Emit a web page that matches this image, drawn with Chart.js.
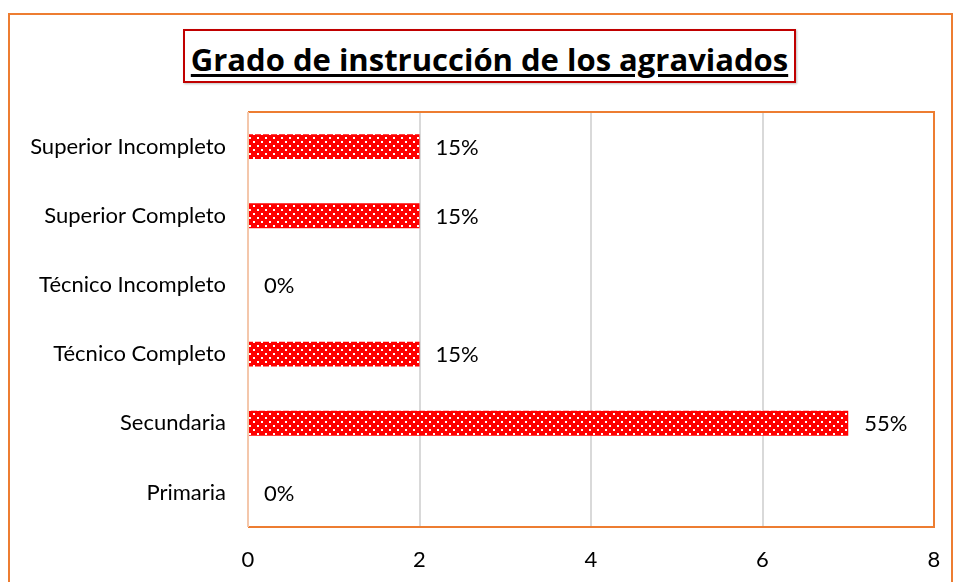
<!DOCTYPE html>
<html>
<head>
<meta charset="utf-8">
<script src="https://cdn.jsdelivr.net/npm/chart.js@4"></script>
<style>
  html, body { margin: 0; padding: 0; background: #fff; }
  #wrap { position: relative; width: 955px; height: 582px; overflow: hidden; }
  #frame { position: absolute; left: 8px; top: 13px; width: 941px; height: 620px; border: 2px solid #ED7D31; }
  #title {
    position: absolute; left: 183px; top: 29px; width: 609px; height: 47px; padding-top: 3px;
    border: 2px solid #C00000; box-shadow: 1px 1px 2px rgba(0,0,0,0.25);
    font: bold 31px "Open Sans", sans-serif; color: #000; text-align: center; line-height: 50px;
  }
  #title span { text-decoration: underline; text-decoration-thickness: 3px; text-underline-offset: 3px; }
  canvas { position: absolute; left: 0; top: 0; }
</style>
</head>
<body>
<div id="wrap">
  <div id="frame"></div>
  <div id="title"><span>Grado de instrucción de los agraviados</span></div>
  <canvas id="chart" width="955" height="582"></canvas>
</div>
<script>
// data
const categories = ['Superior Incompleto', 'Superior Completo', 'Técnico Incompleto', 'Técnico Completo', 'Secundaria', 'Primaria'];
const counts = [2, 2, 0, 2, 7, 0];
const percents = ['15%', '15%', '0%', '15%', '55%', '0%'];
const xTicks = [0, 2, 4, 6, 8];

const byId = (id) => document.getElementById(id);

// red fill with white dots
function dotPattern() {
  const c = document.createElement('canvas');
  c.width = 8; c.height = 8;
  const g = c.getContext('2d');
  g.fillStyle = '#FF0000';
  g.fillRect(0, 0, 8, 8);
  g.fillStyle = '#FFFFFF';
  g.fillRect(1, 1, 2, 2);
  g.fillRect(5, 5, 2, 2);
  return g.createPattern(c, 'repeat');
}

const plotFrame = {
  id: 'plotFrame',
  afterDatasetsDraw(chart) {
    const { ctx, chartArea: a } = chart;
    ctx.save();
    ctx.lineWidth = 2;
    ctx.strokeStyle = '#ED7D31';
    ctx.beginPath();
    ctx.moveTo(a.left, a.top); ctx.lineTo(a.right, a.top);
    ctx.lineTo(a.right, a.bottom); ctx.lineTo(a.left, a.bottom);
    ctx.stroke();
    ctx.strokeStyle = '#F4C7AB';
    ctx.beginPath();
    ctx.moveTo(a.left, a.top); ctx.lineTo(a.left, a.bottom);
    ctx.stroke();
    ctx.restore();
  }
};

const barLabels = {
  id: 'barLabels',
  afterDatasetsDraw(chart) {
    const { ctx } = chart;
    const meta = chart.getDatasetMeta(0);
    ctx.save();
    ctx.font = '22px Lato, sans-serif';
    ctx.fillStyle = '#000';
    ctx.textAlign = 'left';
    ctx.textBaseline = 'middle';
    meta.data.forEach((bar, i) => {
      ctx.fillText(percents[i], bar.x + 16, bar.y + 1);
    });
    ctx.restore();
  }
};

new Chart(byId('chart').getContext('2d'), {
  type: 'bar',
  data: {
    labels: categories,
    datasets: [{
      data: counts,
      backgroundColor: dotPattern(),
      borderWidth: 0,
      barPercentage: 0.36,
      categoryPercentage: 1
    }]
  },
  options: {
    indexAxis: 'y',
    responsive: false,
    animation: false,
    layout: { padding: { top: 112, right: 21, left: 0, bottom: 0 } },
    scales: {
      x: {
        min: 0, max: 8,
        afterBuildTicks: (s) => { s.ticks = xTicks.map(v => ({ value: v })); },
        afterFit: (s) => { s.height = 55; s.paddingLeft = 0; s.paddingRight = 0; },
        grid: {
          drawTicks: false,
          color: (c) => (c.tick.value === 0 || c.tick.value === 8) ? 'rgba(0,0,0,0)' : '#D9D9D9',
          lineWidth: 2
        },
        border: { display: false },
        ticks: { padding: 20, color: '#000', font: { family: 'Lato', size: 22 } }
      },
      y: {
        afterFit: (s) => { s.width = 248; },
        grid: { display: false, drawTicks: false },
        border: { display: false },
        ticks: { padding: 22, color: '#000', font: { family: 'Lato', size: 22 } }
      }
    },
    plugins: { legend: { display: false }, tooltip: { enabled: false } }
  },
  plugins: [plotFrame, barLabels]
});
</script>
</body>
</html>
